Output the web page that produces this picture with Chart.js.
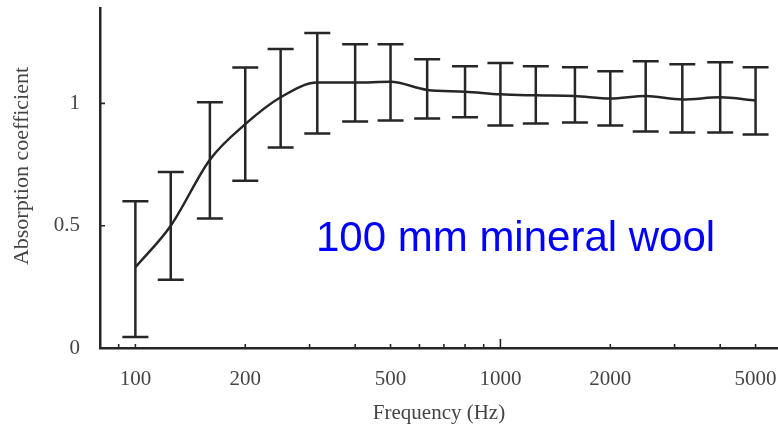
<!DOCTYPE html>
<html>
<head>
<meta charset="utf-8">
<script src="https://cdn.jsdelivr.net/npm/chart.js@4/dist/chart.umd.min.js"></script>
<style>
  html, body { margin: 0; padding: 0; background: #fff; }
  #wrap { width: 778px; height: 430px; }
</style>
</head>
<body>
<div id="wrap"><canvas id="absorptionChart"></canvas></div>
<script>
// third-octave band centres (Hz)
const frequencies = [100, 125, 160, 200, 250, 315, 400, 500, 630, 800, 1000, 1250, 1600, 2000, 2500, 3150, 4000, 5000]
const meanAbsorption = [0.33, 0.50, 0.77, 0.915, 1.025, 1.085, 1.085, 1.088, 1.055, 1.048, 1.037, 1.033, 1.03, 1.02, 1.03, 1.016, 1.025, 1.012]
const upperAbsorption = [0.60, 0.72, 1.005, 1.147, 1.222, 1.288, 1.242, 1.242, 1.18, 1.152, 1.165, 1.152, 1.148, 1.131, 1.172, 1.16, 1.168, 1.148]
const lowerAbsorption = [0.045, 0.279, 0.529, 0.684, 0.82, 0.877, 0.926, 0.93, 0.938, 0.943, 0.91, 0.918, 0.922, 0.91, 0.885, 0.881, 0.881, 0.873]

const xTickLabels = [100, 200, 500, 1000, 2000, 5000]
const xMinorTicks = [90, 100, 200, 300, 400, 500, 600, 700, 800, 900, 2000, 3000, 4000, 5000]
const xMajorTicks = [1000]
const yTickLabels = [0, 0.5, 1]

const inkColor = '#262626'
const labelColor = '#444'
const serif = "'Liberation Serif', 'DejaVu Serif', serif"

const errorBarsPlugin = {
  id: 'errorBars',
  afterDatasetsDraw(chart) {
    const { ctx, scales } = chart
    ctx.save()
    ctx.strokeStyle = inkColor
    ctx.lineWidth = 2.5
    frequencies.forEach((f, i) => {
      const x = scales.x.getPixelForValue(f)
      const yTop = scales.y.getPixelForValue(upperAbsorption[i])
      const yBot = scales.y.getPixelForValue(lowerAbsorption[i])
      ctx.beginPath()
      ctx.moveTo(x, yTop)
      ctx.lineTo(x, yBot)
      ctx.moveTo(x - 13, yTop)
      ctx.lineTo(x + 13, yTop)
      ctx.moveTo(x - 13, yBot)
      ctx.lineTo(x + 13, yBot)
      ctx.stroke()
    })
    ctx.restore()
  },
}

// tick marks point into the plot area, plus the y title and the label
const decorPlugin = {
  id: 'decor',
  afterDraw(chart) {
    const { ctx, scales, chartArea } = chart
    ctx.save()
    ctx.strokeStyle = inkColor
    ctx.lineWidth = 1.6
    ctx.beginPath()
    xMinorTicks.forEach((f) => {
      const x = scales.x.getPixelForValue(f)
      ctx.moveTo(x, chartArea.bottom)
      ctx.lineTo(x, chartArea.bottom - 4)
    })
    xMajorTicks.forEach((f) => {
      const x = scales.x.getPixelForValue(f)
      ctx.moveTo(x, chartArea.bottom)
      ctx.lineTo(x, chartArea.bottom - 9)
    })
    yTickLabels.slice(1).forEach((v) => {
      const y = scales.y.getPixelForValue(v)
      ctx.moveTo(chartArea.left, y)
      ctx.lineTo(chartArea.left + 5, y)
    })
    ctx.stroke()

    ctx.translate(22, 166)
    ctx.rotate(-Math.PI / 2)
    ctx.fillStyle = labelColor
    ctx.font = '22px ' + serif
    ctx.textAlign = 'center'
    ctx.textBaseline = 'middle'
    ctx.fillText('Absorption coefficient', 0, 0)
    ctx.restore()

    ctx.save()
    ctx.fillStyle = '#0000ff'
    ctx.font = "42px 'Liberation Sans', Arial, sans-serif"
    ctx.textBaseline = 'alphabetic'
    ctx.fillText('100 mm mineral wool', 316, 251)
    ctx.restore()
  },
}

new Chart(document.getElementById('absorptionChart'), {
  type: 'line',
  data: {
    datasets: [
      {
        label: 'Absorption coefficient',
        data: frequencies.map((f, i) => ({ x: f, y: meanAbsorption[i] })),
        borderColor: inkColor,
        borderWidth: 2.5,
        pointRadius: 0,
        cubicInterpolationMode: 'monotone',
        fill: false,
      },
    ],
  },
  options: {
    responsive: true,
    maintainAspectRatio: false,
    animation: false,
    layout: { padding: { top: 8, right: 0, left: 0, bottom: 0 } },
    plugins: {
      legend: { display: false },
      tooltip: { enabled: false },
    },
    scales: {
      x: {
        type: 'logarithmic',
        min: 80,
        max: 5760,
        afterBuildTicks: (scale) => {
          scale.ticks = xTickLabels.map((v) => ({ value: v }))
        },
        afterFit: (scale) => {
          scale.height = 82
          scale.paddingLeft = 0
          scale.paddingRight = 0
        },
        ticks: {
          autoSkip: false,
          maxRotation: 0,
          padding: 19,
          color: labelColor,
          font: { family: serif, size: 21 },
          callback: (v) => String(v),
        },
        grid: { display: false, drawTicks: false },
        border: { display: true, color: inkColor, width: 2.5 },
        title: {
          display: true,
          text: 'Frequency (Hz)',
          color: labelColor,
          font: { family: serif, size: 21 },
          padding: { top: 4 },
        },
      },
      y: {
        min: 0,
        max: 1.39,
        afterBuildTicks: (scale) => {
          scale.ticks = yTickLabels.map((v) => ({ value: v }))
        },
        afterFit: (scale) => {
          scale.width = 100
          scale.paddingTop = 0
          scale.paddingBottom = 0
        },
        ticks: {
          padding: 20,
          color: labelColor,
          font: { family: serif, size: 21 },
          callback: (v) => String(v),
        },
        grid: { display: false, drawTicks: false },
        border: { display: true, color: inkColor, width: 2.5 },
        title: { display: false },
      },
    },
  },
  plugins: [errorBarsPlugin, decorPlugin],
})
</script>
</body>
</html>
